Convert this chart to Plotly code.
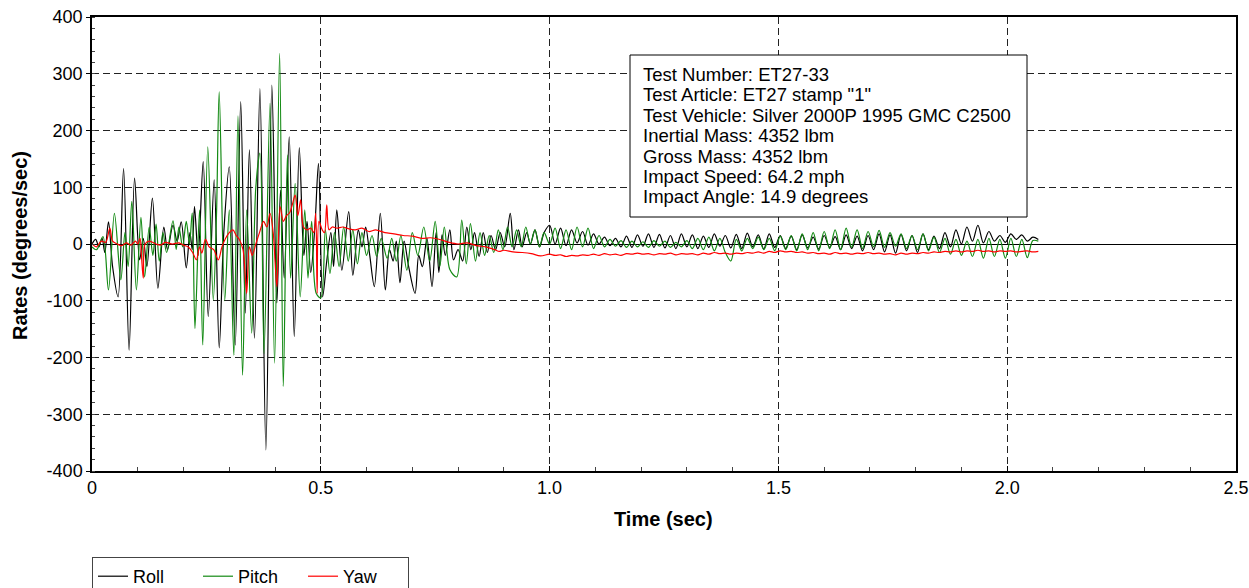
import plotly.graph_objects as go

# ---------------- data ----------------
series_names = ["Roll", "Pitch", "Yaw"]
series_colors = ["#000000", "#138a13", "#ff0000"]

# early part: (time s, rate deg/s) peaks and troughs
roll_early = [
    (0.000, 0), (0.008, 8), (0.015, -5), (0.022, 10), (0.028, -15), (0.036, 39),
    (0.045, -40), (0.057, -93), (0.069, 133), (0.081, -187), (0.093, 116),
    (0.104, -28), (0.112, 10), (0.120, -40), (0.132, 81), (0.144, -78),
    (0.157, 30), (0.165, -10), (0.177, 33), (0.186, 5), (0.195, 39),
    (0.206, -42), (0.214, 20), (0.219, -10), (0.224, 66), (0.232, -20),
    (0.243, 145), (0.254, -128), (0.267, 113), (0.278, -183), (0.288, 20),
    (0.300, 136), (0.313, -178), (0.325, 251), (0.335, -122), (0.344, 166),
    (0.355, -166), (0.367, 274), (0.380, -363), (0.393, 280), (0.404, -104),
    (0.412, 95), (0.420, -60), (0.431, 189), (0.442, -163), (0.453, 170),
    (0.463, -20), (0.470, 40), (0.478, -50), (0.487, 30), (0.495, 142),
    (0.504, -93), (0.513, -30), (0.522, 20), (0.528, -40), (0.535, 60),
    (0.546, -46), (0.561, 57), (0.570, -55), (0.582, 25), (0.590, -5),
    (0.598, 30), (0.607, -20), (0.617, -75), (0.630, 54), (0.641, -81),
    (0.650, -10), (0.658, -30), (0.665, 5), (0.673, -68), (0.682, 5),
    (0.692, -40), (0.706, -87), (0.714, -20), (0.722, -40), (0.732, 10),
    (0.743, -75), (0.752, 20), (0.758, -50), (0.765, 16), (0.772, -20),
    (0.782, 25), (0.790, -28), (0.800, -10), (0.810, -30), (0.819, 30),
    (0.828, -10), (0.836, 20), (0.846, -22), (0.855, 20), (0.864, -15),
    (0.872, 15), (0.882, -10), (0.892, 20), (0.902, -5), (0.914, 54),
    (0.922, -10), (0.932, 25), (0.940, -5), (0.950, 20), (0.958, 0),
    (0.968, 25), (0.978, -5), (0.988, 20),
]

pitch_early = [
    (0.000, -5), (0.010, -10), (0.024, 13), (0.036, -81), (0.049, 54),
    (0.063, -63), (0.072, 20), (0.079, -40), (0.087, 75), (0.097, -81),
    (0.107, 47), (0.115, -58), (0.125, 30), (0.133, -20), (0.140, 35),
    (0.147, -30), (0.155, 20), (0.163, -15), (0.177, 41), (0.184, -10),
    (0.190, 30), (0.198, -5), (0.206, 40), (0.213, 0), (0.219, 55),
    (0.225, -149), (0.235, 60), (0.242, -178), (0.253, 171), (0.265, -99),
    (0.272, 50), (0.278, 268), (0.290, -100), (0.300, 60), (0.310, -196),
    (0.319, 226), (0.329, -231), (0.338, 60), (0.349, -157), (0.358, 100),
    (0.367, 160), (0.376, -193), (0.389, 248), (0.399, -210), (0.410, 336),
    (0.418, -251), (0.427, 157), (0.434, -60), (0.444, 107), (0.455, -93),
    (0.465, 60), (0.472, -60), (0.480, 40), (0.490, -87), (0.500, -95),
    (0.510, 25), (0.520, -52), (0.530, 20), (0.540, -40), (0.550, 30),
    (0.560, -30), (0.570, 25), (0.580, -35), (0.590, 20), (0.600, -20),
    (0.612, 15), (0.622, -22), (0.632, 10), (0.645, -25), (0.655, 10),
    (0.665, -30), (0.675, 15), (0.688, -46), (0.700, 20), (0.712, -20),
    (0.725, 30), (0.738, -30), (0.750, 40), (0.760, -40), (0.770, 30),
    (0.782, -45), (0.797, -58), (0.808, 42), (0.818, -35), (0.827, 36),
    (0.838, -30), (0.848, 20), (0.858, -20), (0.868, 15), (0.878, -15),
    (0.888, 25), (0.898, -10), (0.908, 30), (0.918, -5), (0.928, 25),
    (0.938, -5), (0.948, 30), (0.958, 0), (0.968, 25), (0.978, -5),
    (0.988, 20),
]

yaw_early = [
    (0.000, 0), (0.010, -5), (0.020, 5), (0.030, 3), (0.039, 28), (0.045, 5),
    (0.055, 0), (0.065, -3), (0.075, 2), (0.085, -2), (0.095, 5), (0.100, 0),
    (0.105, 10), (0.108, -20), (0.112, -60), (0.116, 0), (0.125, 5),
    (0.140, 0), (0.150, -2), (0.160, 3), (0.175, 0), (0.190, 2), (0.200, -2),
    (0.210, -5), (0.220, -15), (0.228, -28), (0.235, -5), (0.240, -16),
    (0.248, 8), (0.256, -5), (0.266, -10), (0.276, -28), (0.284, -5),
    (0.292, 10), (0.300, 20), (0.308, 25), (0.315, 15), (0.322, 8),
    (0.330, -10), (0.338, -87), (0.344, -5), (0.350, -20), (0.358, 0),
    (0.366, 20), (0.375, 40), (0.382, 30), (0.389, 54), (0.396, 20),
    (0.404, -75), (0.411, 66), (0.418, 40), (0.425, 50), (0.432, 55),
    (0.438, 70), (0.444, 86), (0.450, 50), (0.456, 78), (0.462, 30),
    (0.470, 25), (0.478, 28), (0.485, 20), (0.489, 54), (0.492, -87),
    (0.496, 40), (0.503, 25), (0.508, 20), (0.513, 69), (0.518, 25),
    (0.525, 30), (0.535, 28), (0.548, 30), (0.560, 27), (0.575, 25),
    (0.590, 28), (0.605, 22), (0.620, 25), (0.640, 20), (0.660, 18),
    (0.680, 15), (0.700, 14), (0.720, 10), (0.740, 11), (0.760, 8),
    (0.780, 3), (0.800, 0), (0.820, 2), (0.840, -3), (0.860, -5),
    (0.880, -10), (0.890, -13), (0.900, -11), (0.920, -14), (0.940, -15),
    (0.960, -17), (0.980, -21),
]

# later part: sampled every 0.012 s from 1.0 s
late_start = 1.0
late_step = 0.012

roll_late = [
    33, 0, 28, -3, 25, 2, 22, -2, 18, 0,
    12, -3, 10, -5, 14, -6, 16, -4, 18, -6,
    17, -7, 15, -8, 18, -5, 16, -8, 14, -6,
    18, -4, 15, -7, 17, -8, 19, -5, 16, -9,
    18, -6, 15, -8, 14, -10, 16, -7, 12, -9,
    15, -6, 13, -10, 16, -8, 14, -12, 15, -10,
    18, -14, 16, -16, 17, -12, 15, -15, 18, -10,
    14, -8, 20, -5, 25, 0, 30, 5, 33, 2,
    22, 5, 15, 3, 18, 8, 16, 5, 12, 8,
]

pitch_late = [
    0, 28, -8, 25, -10, 30, -5, 28, -8, 15,
    -5, 8, -4, 6, -6, 5, -5, 4, -6, 6,
    -4, 5, -6, 3, -5, 6, -8, 10, -10, 12,
    -12, 10, -15, -30, 8, -12, 10, -8, 12, -10,
    10, -12, 14, -10, 15, -12, 18, -10, 20, -12,
    22, -8, 25, -10, 28, -6, 25, -8, 22, -5,
    24, -6, 20, -4, 18, -8, 15, -10, 18, -12,
    12, -15, 10, -18, 8, -20, 5, -22, 8, -25,
    10, -22, 8, -25, 10, -22, 8, -24, 6, 5,
]

yaw_late = [
    -18, -20, -19, -22, -20, -21, -19, -20, -18, -20,
    -17, -19, -18, -20, -17, -18, -16, -18, -17, -19,
    -17, -18, -16, -19, -17, -18, -17, -19, -16, -18,
    -15, -17, -16, -18, -16, -17, -15, -16, -14, -16,
    -13, -15, -12, -14, -13, -15, -14, -16, -15, -17,
    -16, -18, -15, -17, -16, -18, -16, -17, -15, -17,
    -16, -18, -17, -19, -16, -18, -16, -17, -15, -16,
    -14, -15, -13, -14, -12, -14, -12, -13, -11, -13,
    -12, -14, -12, -13, -12, -14, -13, -12, -14, -13,
]

x_tickvals = [0, 0.5, 1.0, 1.5, 2.0, 2.5]
x_ticktext = ["0", "0.5", "1.0", "1.5", "2.0", "2.5"]
y_tickvals = [400, 300, 200, 100, 0, -100, -200, -300, -400]
y_ticktext = ["400", "300", "200", "100", "0", "-100", "-200", "-300", "-400"]

x_title = "Time (sec)"
y_title = "Rates (degrees/sec)"

info_lines = [
    "Test Number: ET27-33",
    'Test Article: ET27 stamp "1"',
    "Test Vehicle: Silver 2000P 1995 GMC C2500",
    "Inertial Mass: 4352 lbm",
    "Gross Mass: 4352 lbm",
    "Impact Speed: 64.2 mph",
    "Impact Angle: 14.9 degrees",
]

# ---------------- figure ----------------
FONT = "Arial, 'Liberation Sans', sans-serif"
W, H = 1249, 588
ML, MR, MT, MB = 92, 13, 17, 117
PW, PH = W - ML - MR, H - MT - MB


def px_x(p):
    return (p - ML) / PW


def px_y(p):
    return (H - MB - p) / PH


def build(early, late):
    t = [p[0] for p in early] + [round(late_start + late_step * i, 3) for i in range(len(late))]
    v = [p[1] for p in early] + list(late)
    return t, v


fig = go.Figure()
for name, color, early, late in zip(
    series_names, series_colors,
    [roll_early, pitch_early, yaw_early],
    [roll_late, pitch_late, yaw_late],
):
    t, v = build(early, late)
    fig.add_trace(go.Scatter(x=t, y=v, mode="lines", name=name,
                             line=dict(color=color, width=1.2, shape="spline", smoothing=0.9)))

annotations = []
# info box lines
for i, line in enumerate(info_lines):
    annotations.append(dict(
        text=line, xref="paper", yref="paper",
        x=px_x(641), y=px_y(74.5 + 20.4 * i),
        xanchor="left", yanchor="middle", align="left", showarrow=False,
        font=dict(family=FONT, size=18.5, color="#000000"),
    ))
# axis titles
annotations.append(dict(
    text="<b>%s</b>" % x_title, xref="paper", yref="paper",
    x=px_x(663), y=px_y(519), xanchor="center", yanchor="middle",
    showarrow=False, font=dict(family=FONT, size=20, color="#000000"),
))
annotations.append(dict(
    text="<b>%s</b>" % y_title, xref="paper", yref="paper",
    x=px_x(20), y=px_y(246), xanchor="center", yanchor="middle", textangle=-90,
    showarrow=False, font=dict(family=FONT, size=20, color="#000000"),
))

fig.update_layout(
    width=W, height=H,
    margin=dict(l=ML, r=MR, t=MT, b=MB, autoexpand=False),
    paper_bgcolor="white", plot_bgcolor="white",
    font=dict(family=FONT, size=18, color="#000000"),
    showlegend=True,
    legend=dict(
        orientation="h", x=0, xanchor="left",
        yref="container", y=1 - 557 / H, yanchor="top",
        bordercolor="#444444", borderwidth=1, bgcolor="white",
        font=dict(family=FONT, size=18), entrywidth=60, entrywidthmode="pixels",
        tracegroupgap=0,
    ),
    annotations=annotations,
    shapes=[dict(
        type="rect", xref="paper", yref="paper",
        x0=px_x(630), x1=px_x(1027), y0=px_y(217), y1=px_y(55),
        line=dict(color="#000000", width=1), fillcolor="white", layer="above",
    )],
)

GRID_DASH = "7px,4px"
fig.update_xaxes(
    range=[0, 2.5], tickvals=x_tickvals, ticktext=x_ticktext,
    showline=True, linecolor="#000000", linewidth=1.5, mirror=True,
    showgrid=True, gridcolor="#222222", gridwidth=1, griddash=GRID_DASH,
    zeroline=False, automargin=False,
    ticks="inside", ticklen=5, tickcolor="#000000",
    minor=dict(dtick=0.1, tick0=0, ticks="inside", ticklen=4, tickcolor="#444444", showgrid=False),
    tickfont=dict(family=FONT, size=18),
)
fig.update_yaxes(
    range=[-400, 400], tickvals=y_tickvals, ticktext=y_ticktext,
    showline=True, linecolor="#000000", linewidth=1.5, mirror=True,
    showgrid=True, gridcolor="#222222", gridwidth=1, griddash=GRID_DASH,
    zeroline=True, zerolinecolor="#000000", zerolinewidth=1, automargin=False,
    ticks="outside", ticklen=4, tickcolor="#000000",
    minor=dict(dtick=20, tick0=0, ticks="inside", ticklen=3, tickcolor="#444444", showgrid=False),
    tickfont=dict(family=FONT, size=18),
)

fig.write_html("out.html")
